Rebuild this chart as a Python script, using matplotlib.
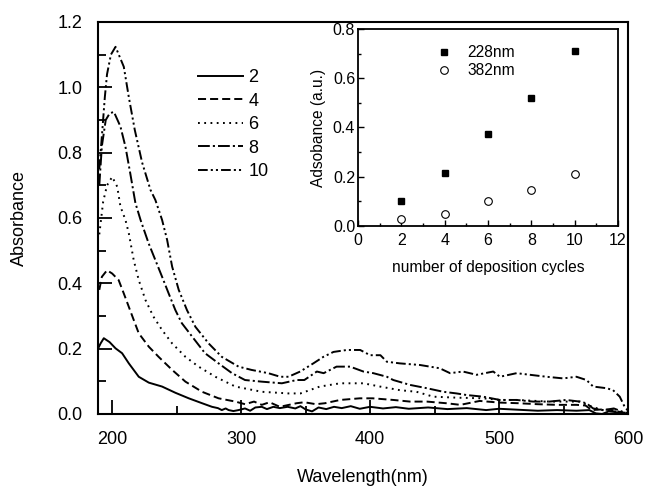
import matplotlib
matplotlib.use("Agg")
import matplotlib.pyplot as plt
from matplotlib.ticker import MultipleLocator

plt.rcParams['font.family'] = ['Liberation Sans', 'DejaVu Sans']
plt.rcParams['lines.scale_dashes'] = False

# ---- main spectra (wavelength nm, absorbance) ----
wl2 = [189, 191, 193.5, 198, 202.6, 207.7, 212.9, 220.6, 228.4, 238.7, 249, 259.4, 269.7, 277.4, 282, 285, 288,
       290.3, 294, 298, 303, 307, 311, 316, 320, 325, 330, 336, 342, 346, 350, 355, 360, 366, 372, 378, 385,
       392, 400, 410, 420, 430, 445, 460, 475, 490, 500, 515, 530, 545, 560, 570, 575, 580, 585, 590, 595, 600]
a2 = [0.20, 0.216, 0.232, 0.22, 0.201, 0.186, 0.155, 0.114, 0.096, 0.084, 0.065, 0.048, 0.033, 0.022, 0.018,
      0.012, 0.017, 0.012, 0.009, 0.012, 0.017, 0.010, 0.020, 0.022, 0.015, 0.022, 0.018, 0.022, 0.017, 0.024,
      0.014, 0.008, 0.020, 0.015, 0.022, 0.018, 0.024, 0.016, 0.022, 0.017, 0.021, 0.016, 0.020, 0.015, 0.018,
      0.012, 0.016, 0.013, 0.010, 0.012, 0.010, 0.012, 0.002, 0.0, 0.008, 0.006, 0.002, 0.0]

wl4 = [190, 192, 196, 200, 205, 209, 212.9, 216.7, 220.6, 228.4, 236, 246.5, 256.8, 269.7, 282.5, 295.5, 303,
       310, 316, 322, 330, 343, 349, 358, 365, 376.8, 392, 402, 418, 431, 444, 459, 470, 485, 500, 515, 530,
       545, 560, 567, 572, 580, 588, 595, 600]
a4 = [0.38, 0.42, 0.44, 0.43, 0.41, 0.369, 0.328, 0.288, 0.247, 0.206, 0.175, 0.135, 0.099, 0.068, 0.048, 0.038,
      0.030, 0.038, 0.028, 0.036, 0.022, 0.033, 0.036, 0.030, 0.033, 0.043, 0.048, 0.048, 0.043, 0.038, 0.038,
      0.033, 0.028, 0.040, 0.035, 0.033, 0.030, 0.028, 0.028, 0.026, 0.012, 0.014, 0.012, 0.005, 0.003]

wl6 = [190, 193, 196, 200, 203.9, 206.4, 210.3, 212.9, 216.7, 220.6, 225.8, 232, 238.7, 246.5, 256.8, 267, 280,
       295.5, 316, 336.7, 346, 361, 376.8, 394.8, 407.7, 423, 436, 449, 467, 487.7, 500.6, 513.6, 539, 562.6,
       568, 574, 580, 590, 600]
a6 = [0.55, 0.65, 0.70, 0.726, 0.696, 0.635, 0.594, 0.553, 0.471, 0.41, 0.349, 0.298, 0.257, 0.216, 0.175, 0.145,
      0.114, 0.084, 0.068, 0.063, 0.063, 0.084, 0.094, 0.094, 0.084, 0.073, 0.068, 0.053, 0.050, 0.048, 0.043,
      0.043, 0.038, 0.038, 0.028, 0.020, 0.012, 0.008, 0.005]

wl8 = [190, 192, 195, 198, 201.3, 206.4, 210.3, 214, 218, 222, 228.3, 233.5, 238.7, 243.8, 249, 254, 262, 272,
       282.5, 292.9, 303, 316, 331.6, 343, 349, 358.7, 364, 374, 384.5, 394.8, 402.5, 413, 418, 431, 443.9,
       456.8, 467, 475, 487.7, 500.6, 513.6, 526.4, 539, 552, 562.6, 567.7, 573, 581, 589, 597, 600]
a8 = [0.70, 0.82, 0.90, 0.92, 0.925, 0.88, 0.818, 0.737, 0.646, 0.594, 0.522, 0.471, 0.42, 0.369, 0.318, 0.278,
      0.237, 0.186, 0.155, 0.125, 0.104, 0.099, 0.094, 0.104, 0.104, 0.13, 0.125, 0.145, 0.145, 0.13, 0.125,
      0.114, 0.104, 0.089, 0.079, 0.068, 0.063, 0.058, 0.053, 0.043, 0.043, 0.038, 0.038, 0.043, 0.038, 0.033,
      0.017, 0.012, 0.017, 0.005, 0.002]

wl10 = [190, 192, 194.3, 196, 199, 202.6, 209, 212.9, 217.5, 223.2, 229.7, 233.5, 238.7, 242.6, 246.5, 251.6,
        258, 264.5, 274.8, 285, 298, 308, 321, 330.3, 336.7, 345.8, 356, 363.8, 371.6, 382, 392.3, 400, 408,
        413, 423, 438.7, 454, 462, 472, 482.6, 495.5, 500.7, 513.6, 524, 536.8, 549.7, 560, 567.8, 573, 583.3,
        588.4, 593.6, 597.4, 600]
a10 = [0.75, 0.85, 0.97, 1.04, 1.10, 1.124, 1.063, 0.97, 0.87, 0.77, 0.686, 0.655, 0.594, 0.533, 0.451, 0.38,
       0.318, 0.267, 0.216, 0.175, 0.145, 0.135, 0.125, 0.114, 0.114, 0.13, 0.155, 0.175, 0.19, 0.196, 0.196,
       0.18, 0.18, 0.16, 0.155, 0.15, 0.14, 0.125, 0.13, 0.12, 0.13, 0.114, 0.125, 0.12, 0.114, 0.109, 0.114,
       0.104, 0.084, 0.079, 0.073, 0.053, 0.022, 0.01]

series_labels = ['2', '4', '6', '8', '10']

# ---- inset data ----
cycles = [2, 4, 6, 8, 10]
abs228 = [0.10, 0.215, 0.375, 0.52, 0.71]
abs382 = [0.03, 0.05, 0.10, 0.145, 0.21]

fig = plt.figure(figsize=(6.48, 4.87), dpi=100)
ax = fig.add_axes([98/648, 1-414/487, 530/648, 392/487])

styles = ['-', (0, (5.8, 2.9)), (0, (1.3, 3.2)), (0, (8.5, 2.2, 1.5, 2.2)), (0, (7, 2.2, 1.5, 2.2, 1.5, 2.2))]
data = [(wl2, a2), (wl4, a4), (wl6, a6), (wl8, a8), (wl10, a10)]
for (x, y), ls, lab in zip(data, styles, series_labels):
    ax.plot(x, y, color='black', lw=1.4, linestyle=ls, label=lab)

ax.set_xlim(189, 600)
ax.set_ylim(0, 1.2)
ax.xaxis.set_major_locator(MultipleLocator(100))
ax.xaxis.set_minor_locator(MultipleLocator(50))
ax.yaxis.set_major_locator(MultipleLocator(0.2))
ax.yaxis.set_minor_locator(MultipleLocator(0.1))
ax.yaxis.set_major_formatter(matplotlib.ticker.FormatStrFormatter('%.1f'))
ax.tick_params(which='both', direction='in', top=False, right=False, width=1.3, labelsize=13)
ax.tick_params(which='major', length=10)
ax.tick_params(which='minor', length=6)
ax.tick_params(axis='x', pad=12)
ax.tick_params(axis='y', pad=11)
for s in ax.spines.values():
    s.set_linewidth(1.5)
ax.set_xlabel('Wavelength(nm)', fontsize=13, labelpad=15)
ax.set_ylabel('Absorbance', fontsize=13, labelpad=21.5)

ax.legend(loc='upper left', bbox_to_anchor=(0.1887, 0.88), frameon=False, fontsize=13,
          handlelength=2.5, handletextpad=0.28, labelspacing=0.36, borderpad=0, borderaxespad=0)

ins = fig.add_axes([358/648, 1-226/487, 260/648, 197/487])
ins.plot(cycles, abs228, linestyle='none', marker='s', markersize=5, color='black', label='228nm')
ins.plot(cycles, abs382, linestyle='none', marker='o', markersize=5.5, markerfacecolor='white',
         markeredgecolor='black', markeredgewidth=0.8, label='382nm')
ins.set_xlim(0, 12)
ins.set_ylim(0, 0.8)
ins.xaxis.set_major_locator(MultipleLocator(2))
ins.xaxis.set_minor_locator(MultipleLocator(1))
ins.yaxis.set_major_locator(MultipleLocator(0.2))
ins.yaxis.set_minor_locator(MultipleLocator(0.1))
ins.yaxis.set_major_formatter(matplotlib.ticker.FormatStrFormatter('%.1f'))
ins.tick_params(which='both', direction='in', top=False, right=False, width=1.0, labelsize=11.5)
ins.tick_params(which='major', length=4)
ins.tick_params(which='minor', length=2.5)
ins.tick_params(axis='x', pad=5)
ins.tick_params(axis='y', pad=2)
for s in ins.spines.values():
    s.set_linewidth(1.3)
ins.set_xlabel('number of deposition cycles', fontsize=11.2, labelpad=9)
ins.set_ylabel('Adsobance (a.u.)', fontsize=11.2, labelpad=5)
ins.legend(loc='upper left', bbox_to_anchor=(0.30, 0.919), frameon=False, fontsize=11.2,
           handlelength=1.0, handletextpad=1.0, labelspacing=0.2, borderpad=0, borderaxespad=0)

fig.savefig('out.png', dpi=100)
